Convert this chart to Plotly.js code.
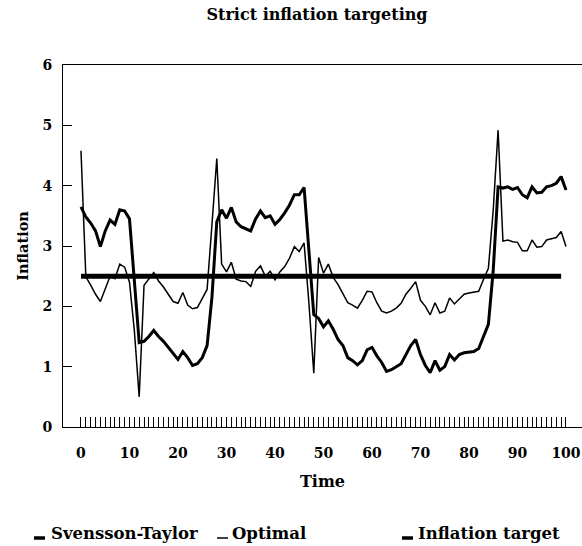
<!DOCTYPE html>
<html>
<head>
<meta charset="utf-8">
<script src="https://cdn.plot.ly/plotly-3.0.1.min.js"></script>
<style>html,body{margin:0;padding:0;background:#fff;}#chart{width:582px;height:546px;}</style>
</head>
<body>
<div id="chart"></div>
<script>
// ---- data ----
const time = Array.from({length: 101}, (_, i) => i);

const svenssonTaylor = [
  3.65, 3.48, 3.38, 3.25, 2.99, 3.25, 3.43, 3.36, 3.60, 3.58,
  3.45, 2.40, 1.40, 1.42, 1.50, 1.60, 1.50, 1.42, 1.32, 1.22,
  1.12, 1.25, 1.15, 1.02, 1.05, 1.15, 1.35, 2.15, 3.40, 3.60,
  3.46, 3.64, 3.40, 3.32, 3.28, 3.25, 3.45, 3.58, 3.47, 3.50,
  3.36, 3.44, 3.55, 3.68, 3.85, 3.85, 3.97, 2.90, 1.86, 1.80,
  1.66, 1.76, 1.62, 1.45, 1.35, 1.15, 1.10, 1.03, 1.10, 1.28,
  1.32, 1.18, 1.07, 0.92, 0.95, 1.00, 1.05, 1.20, 1.35, 1.45,
  1.20, 1.02, 0.90, 1.10, 0.94, 1.00, 1.20, 1.11, 1.20, 1.23,
  1.24, 1.25, 1.30, 1.50, 1.70, 2.60, 3.98, 3.96, 3.98, 3.94,
  3.97, 3.85, 3.80, 3.98, 3.88, 3.89, 3.98, 4.00, 4.04, 4.15,
  3.93
];

const optimal = [
  4.58, 2.49, 2.35, 2.20, 2.08, 2.30, 2.50, 2.46, 2.70, 2.65,
  2.40, 1.60, 0.50, 2.35, 2.46, 2.56, 2.42, 2.32, 2.20, 2.08,
  2.05, 2.23, 2.02, 1.96, 1.98, 2.12, 2.28, 3.35, 4.45, 2.70,
  2.57, 2.73, 2.45, 2.42, 2.41, 2.33, 2.58, 2.67, 2.50, 2.58,
  2.44, 2.57, 2.66, 2.80, 2.99, 2.91, 3.05, 2.05, 0.89, 2.81,
  2.55, 2.70, 2.48, 2.36, 2.20, 2.06, 2.02, 1.97, 2.10, 2.25,
  2.24, 2.06, 1.92, 1.89, 1.92, 1.97, 2.05, 2.20, 2.30, 2.41,
  2.10, 2.00, 1.86, 2.06, 1.89, 1.92, 2.14, 2.04, 2.12, 2.20,
  2.22, 2.23, 2.25, 2.45, 2.63, 3.60, 4.92, 3.08, 3.10, 3.07,
  3.06, 2.92, 2.92, 3.10, 2.98, 2.99, 3.10, 3.12, 3.14, 3.24,
  2.99
];

const targetTime = [0, 99];
const targetValue = [2.5, 2.5];

const xTickValues = time;
const xTickLabels = time.map(t => (t % 10 === 0 ? String(t) : ''));
const yTickValues = [0, 1, 2, 3, 4, 5, 6];

const seriesNames = ['Svensson-Taylor', 'Optimal', 'Inflation target'];

// ---- layout helpers ----
const FONT = 'DejaVu Serif, Liberation Serif, serif';
const W = 582, H = 546, L = 63, R = 0, T = 65, B = 119;
const pw = W - L - R, ph = H - T - B;
const px = x => (x - L) / pw;          // pixel -> paper x
const py = y => (H - B - y) / ph;      // pixel -> paper y

const traces = [
  {x: time, y: svenssonTaylor, type: 'scatter', mode: 'lines', name: seriesNames[0],
   line: {color: '#000', width: 3}, showlegend: false},
  {x: time, y: optimal, type: 'scatter', mode: 'lines', name: seriesNames[1],
   line: {color: '#000', width: 1.5}, showlegend: false},
  {x: targetTime, y: targetValue, type: 'scatter', mode: 'lines', name: seriesNames[2],
   line: {color: '#000', width: 5}, showlegend: false}
];

const legendItems = [
  {name: seriesNames[0], bar: [34, 45], w: 3.5, textX: 49},
  {name: seriesNames[1], bar: [217, 228], w: 1.5, textX: 230},
  {name: seriesNames[2], bar: [402, 413], w: 3.5, textX: 416}
];

const shapes = legendItems.map(it => ({
  type: 'line', xref: 'paper', yref: 'paper',
  x0: px(it.bar[0]), x1: px(it.bar[1]), y0: py(538), y1: py(538),
  line: {color: '#000', width: it.w}
}));

const annotations = legendItems.map(it => ({
  text: it.name, xref: 'paper', yref: 'paper', x: px(it.textX), y: py(533),
  xanchor: 'left', yanchor: 'middle', showarrow: false,
  font: {family: FONT, size: 16.5, weight: 'bold', color: '#000'}
}));

const layout = {
  width: W, height: H,
  margin: {l: L, r: R, t: T, b: B, pad: 0},
  paper_bgcolor: '#fff', plot_bgcolor: '#fff',
  font: {family: FONT, color: '#000'},
  title: {text: 'Strict inflation targeting', font: {family: FONT, size: 16, weight: 'bold', color: '#000'},
          x: 317 / W, xanchor: 'center', xref: 'container', y: 1 - 14 / H, yanchor: 'middle'},
  showlegend: false,
  xaxis: {
    range: [-3.71, 103.3], tickmode: 'array', tickvals: xTickValues, ticktext: xTickLabels,
    ticks: 'inside', ticklen: 10, tickwidth: 1, tickcolor: '#000',
    ticklabelstandoff: 13,
    showline: true, linecolor: '#000', linewidth: 1, mirror: true,
    showgrid: false, zeroline: false,
    tickfont: {family: FONT, size: 14, weight: 'bold', color: '#000'},
    title: {text: 'Time', font: {family: FONT, size: 16, weight: 'bold', color: '#000'}, standoff: 16}
  },
  yaxis: {
    range: [0, 6], tickmode: 'array', tickvals: yTickValues,
    ticks: 'inside', ticklen: 9, tickwidth: 1, tickcolor: '#000',
    ticklabelstandoff: 7,
    showline: true, linecolor: '#000', linewidth: 1,
    showgrid: false, zeroline: false,
    tickfont: {family: FONT, size: 14, weight: 'bold', color: '#000'},
    title: {text: 'Inflation', font: {family: FONT, size: 14.5, weight: 'bold', color: '#000'}, standoff: 10}
  },
  shapes: shapes,
  annotations: annotations
};

Plotly.newPlot('chart', traces, layout, {staticPlot: true, displayModeBar: false});
</script>
</body>
</html>
